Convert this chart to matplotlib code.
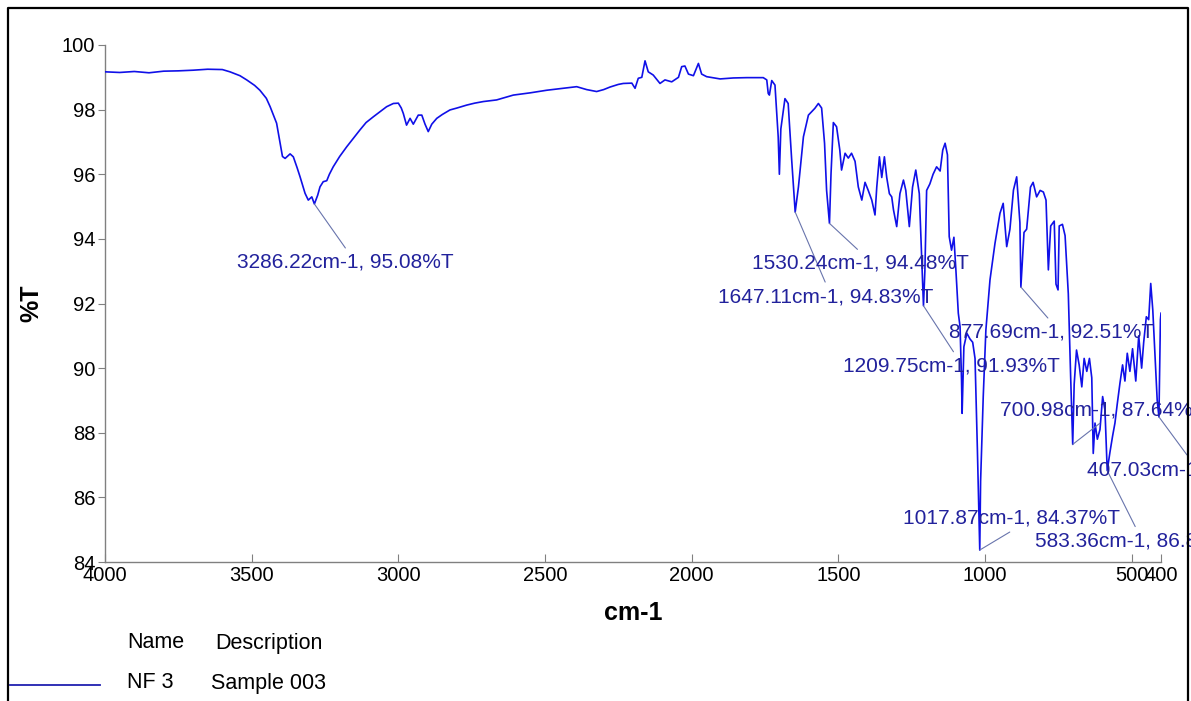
import matplotlib
matplotlib.use("Agg")
import matplotlib.pyplot as plt
from matplotlib.lines import Line2D

# ---------------- data ----------------
wavenumber = [
    4000, 3950, 3900, 3850, 3800, 3750, 3700, 3650, 3600, 3574, 3540, 3517, 3490, 3472, 3450,
    3437, 3415, 3403, 3395, 3386, 3369, 3358, 3345, 3335, 3318, 3307, 3295, 3286.22, 3275,
    3267, 3256, 3244, 3235, 3222, 3200, 3176, 3150, 3131, 3110, 3085, 3060, 3040, 3017, 3000,
    2990, 2983, 2972, 2960, 2949, 2932, 2920, 2909, 2898, 2886, 2869, 2850, 2824, 2800, 2767,
    2740, 2710, 2665, 2608, 2550, 2494, 2440, 2392, 2358, 2324, 2300, 2278, 2250, 2233, 2204,
    2193, 2182, 2170, 2159, 2148, 2131, 2108, 2091, 2068, 2045, 2034, 2023, 2011, 1994, 1977,
    1966, 1949, 1903, 1858, 1812, 1756, 1744, 1739, 1735, 1727, 1716, 1705, 1701, 1696, 1682,
    1671, 1659, 1647.11, 1636, 1619, 1602, 1580, 1568, 1557, 1547, 1540, 1530.24, 1525, 1517,
    1506, 1495, 1489, 1477, 1466, 1455, 1443, 1432, 1420, 1409, 1398, 1386, 1375, 1369, 1360,
    1352, 1343, 1335, 1326, 1318, 1312, 1301, 1290, 1278, 1270, 1258, 1247, 1236, 1224, 1215,
    1209.75, 1205, 1199, 1188, 1177, 1165, 1153, 1144, 1136, 1128, 1122, 1114, 1106, 1099,
    1091, 1085, 1080, 1078, 1072, 1062, 1051, 1042, 1034, 1026, 1017.87, 1015, 1006, 997, 983,
    966, 949, 938, 926, 915, 903, 892, 881, 877.69, 867, 858, 845, 836, 824, 812, 801, 792,
    784, 776, 764, 758, 751, 747, 736, 727, 716, 708, 700.98, 696, 688, 679, 670, 662, 653,
    644, 636, 631, 625, 617, 608, 599, 591, 583.36, 574, 565, 557, 549, 540, 531, 523, 515,
    506, 497, 486, 476, 466, 459, 450, 442, 435, 428, 419, 413, 407.03, 402, 400,
]
transmittance = [
    99.17, 99.15, 99.18, 99.14, 99.19, 99.20, 99.22, 99.25, 99.24, 99.17, 99.05, 98.92, 98.75,
    98.60, 98.35, 98.09, 97.58, 96.96, 96.55, 96.49, 96.63, 96.54, 96.20, 95.92, 95.41, 95.20,
    95.30, 95.08, 95.35, 95.61, 95.77, 95.80, 96.00, 96.23, 96.55, 96.85, 97.15, 97.37, 97.60,
    97.78, 97.95, 98.09, 98.19, 98.20, 98.05, 97.88, 97.52, 97.73, 97.55, 97.83, 97.83, 97.55,
    97.32, 97.55, 97.73, 97.85, 97.99, 98.05, 98.14, 98.20, 98.25, 98.30, 98.45, 98.52, 98.60,
    98.66, 98.71, 98.62, 98.56, 98.62, 98.70, 98.78, 98.81, 98.82, 98.66, 98.97, 99.00, 99.51,
    99.17, 99.07, 98.81, 98.92, 98.86, 99.00, 99.33, 99.35, 99.10, 99.05, 99.43, 99.10, 99.02,
    98.95, 98.98, 98.99, 98.99, 98.92, 98.50, 98.45, 98.90, 98.76, 97.16, 96.00, 97.40, 98.34,
    98.19, 96.44, 94.83, 95.61, 97.16, 97.83, 98.04, 98.19, 98.05, 96.96, 95.50, 94.48, 96.00,
    97.60, 97.47, 96.75, 96.13, 96.65, 96.50, 96.65, 96.40, 95.61, 95.20, 95.75, 95.50, 95.20,
    94.74, 95.60, 96.54, 95.90, 96.54, 95.90, 95.40, 95.30, 94.90, 94.38, 95.40, 95.82, 95.50,
    94.38, 95.60, 96.13, 95.40, 93.24, 91.93, 93.00, 95.50, 95.70, 96.00, 96.23, 96.10, 96.75,
    96.96, 96.60, 94.07, 93.65, 94.05, 93.00, 91.70, 91.28, 89.63, 88.60, 90.66, 91.08, 90.90,
    90.80, 90.30, 87.50, 84.37, 86.50, 89.12, 91.18, 92.73, 93.86, 94.79, 95.10, 93.76, 94.30,
    95.51, 95.92, 94.50, 92.51, 94.20, 94.30, 95.60, 95.75, 95.30, 95.50, 95.45, 95.20, 93.04,
    94.40, 94.55, 92.60, 92.42, 94.40, 94.45, 94.10, 92.30, 89.73, 87.64, 89.50, 90.56, 90.10,
    89.42, 90.30, 89.90, 90.30, 89.70, 87.36, 88.30, 87.80, 88.10, 89.12, 88.70, 86.83, 87.40,
    87.90, 88.30, 88.90, 89.53, 90.10, 89.60, 90.46, 89.90, 90.60, 89.60, 91.00, 90.00, 90.80,
    91.59, 91.50, 92.62, 91.80, 90.10, 89.01, 88.49, 91.50, 91.70,
]

# annotated peaks
peak_wn = [3286.22, 1530.24, 1647.11, 1209.75, 877.69, 700.98, 407.03, 1017.87, 583.36]
peak_t = [95.08, 94.48, 94.83, 91.93, 92.51, 87.64, 88.49, 84.37, 86.83]
# leader-end and text offsets (pixels, relative to the peak)
leader_off = [(31, -44), (28, -26), (30, -70), (30, -46), (27, -31), (27, 21), (28, -38), (30, 18), (28, -56)]
text_off = [(-77, -58), (-77, -40), (-77, -85), (-80, -60), (-72, -45), (-73, 34), (-72, -53), (-77, 32), (-72, -70)]

x_ticks = [4000, 3500, 3000, 2500, 2000, 1500, 1000, 500, 400]
y_ticks = [84, 86, 88, 90, 92, 94, 96, 98, 100]

legend_name = "NF 3"
legend_desc = "Sample 003"

# ---------------- figure ----------------
W, H = 1191, 701
fig = plt.figure(figsize=(W / 100, H / 100), dpi=100)
fig.patch.set_facecolor("white")
ax = fig.add_axes([105 / W, 1 - 562 / H, 1056 / W, 517 / H])

line_color = "#1010e8"
ax.plot(wavenumber, transmittance, color=line_color, lw=1.2, zorder=3)

ax.set_xlim(4000, 400)
ax.set_ylim(84, 100)
ax.set_xticks(x_ticks)
ax.set_yticks(y_ticks)

font = "Liberation Sans"
for s in ["top", "right"]:
    ax.spines[s].set_visible(False)
for s in ["left", "bottom"]:
    ax.spines[s].set_color("#808080")
    ax.spines[s].set_linewidth(1.0)
ax.tick_params(axis="x", direction="in", length=6, color="#808080", pad=3,
               labelsize=14.5, labelcolor="black")
ax.tick_params(axis="y", direction="out", length=5, color="#808080", pad=2,
               labelsize=14.5, labelcolor="black")
for lab in ax.get_xticklabels() + ax.get_yticklabels():
    lab.set_fontfamily(font)

ax.set_xlabel("cm-1", fontsize=18, fontweight="bold", fontfamily=font)
ax.set_ylabel("%T", fontsize=18, fontweight="bold", fontfamily=font)
ax.xaxis.set_label_coords(0.5, -0.075)
ax.yaxis.set_label_coords(-0.058, 0.5)

ann_color = "#22229c"
lead_color = "#6874ac"
for wn, t, lo, to in zip(peak_wn, peak_t, leader_off, text_off):
    ax.annotate("", xy=(wn, t), xytext=lo, textcoords="offset pixels",
                arrowprops=dict(arrowstyle="-", color=lead_color, lw=0.8,
                                shrinkA=0, shrinkB=0), annotation_clip=False)
    ax.annotate(f"{wn:.2f}cm-1, {t:.2f}%T", xy=(wn, t), xytext=to,
                textcoords="offset pixels", ha="left", va="center",
                fontsize=15, color=ann_color, fontfamily=font,
                annotation_clip=False, zorder=4)

# legend block
fig.text(127 / W, 1 - 643 / H, "Name", fontsize=15.5, fontfamily=font, va="center", ha="left")
fig.text(215 / W, 1 - 643 / H, "Description", fontsize=15.5, fontfamily=font, va="center", ha="left")
fig.text(127 / W, 1 - 683 / H, legend_name, fontsize=15.5, fontfamily=font, va="center", ha="left")
fig.text(211 / W, 1 - 683 / H, legend_desc, fontsize=15.5, fontfamily=font, va="center", ha="left")
fig.add_artist(Line2D([10 / W, 100 / W], [1 - 685 / H, 1 - 685 / H],
                      transform=fig.transFigure, color="#2020b0", lw=1.3))

# outer frame
fx0, fx1, fy1 = 8 / W, 1188 / W, 1 - 8 / H
fig.add_artist(Line2D([fx0, fx0, fx1, fx1], [0, fy1, fy1, 0],
                      transform=fig.transFigure, color="black", lw=1.6))

fig.savefig("out.png", dpi=100)
